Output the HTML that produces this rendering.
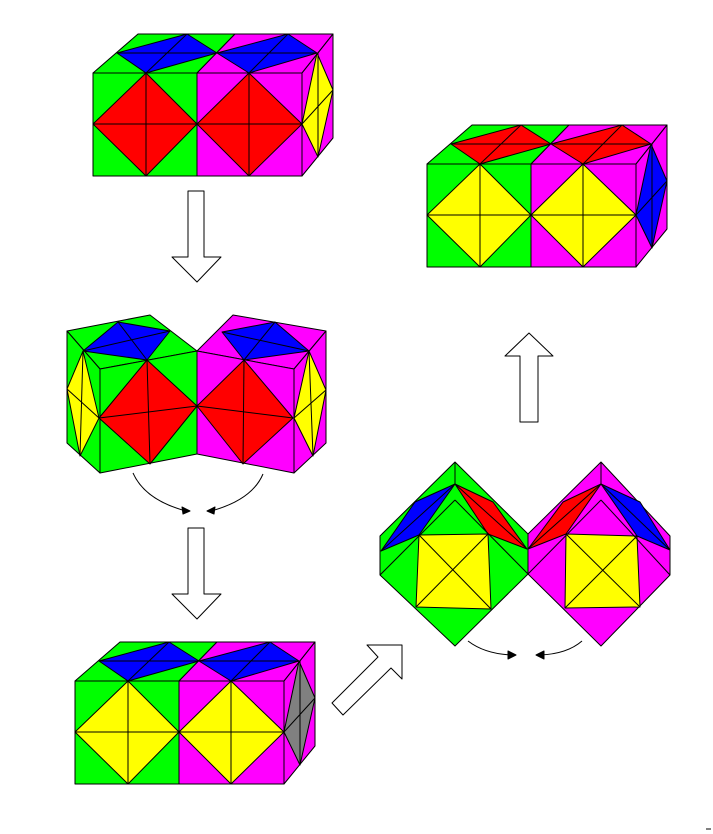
<!DOCTYPE html>
<html><head><meta charset="utf-8"><style>html,body{margin:0;padding:0;background:#fff}svg{display:block}</style></head>
<body>
<svg width="713" height="834" viewBox="0 0 713 834" xmlns="http://www.w3.org/2000/svg" stroke="#000" stroke-width="1" stroke-linejoin="round">
<defs>
<g id="box">
  <polygon points="93,73 138,34 235,34 197,73" fill="#00ff00"/>
  <polygon points="197,73 235,34 333,34 302,73" fill="#ff00ff"/>
  <polygon points="302,73 333,34 333,138 302,176" fill="#ff00ff"/>
  <polygon points="93,73 197,73 197,176 93,176" fill="#00ff00"/>
  <polygon points="197,73 302,73 302,176 197,176" fill="#ff00ff"/>
</g>
<g id="boxlines" fill="none">
  <line x1="117" y1="53" x2="317" y2="53"/>
  <line x1="146" y1="73" x2="187" y2="34"/>
  <line x1="249" y1="73" x2="288" y2="34"/>
  <line x1="318" y1="53" x2="318" y2="157"/>
  <line x1="302" y1="124" x2="333" y2="90"/>
  <line x1="93" y1="124" x2="302" y2="124"/>
  <line x1="146" y1="73" x2="146" y2="176"/>
  <line x1="249" y1="73" x2="249" y2="176"/>
  <line x1="302" y1="73" x2="333" y2="34"/>
</g>
</defs>

<!-- Figure 1 -->
<g>
  <use href="#box"/>
  <polygon points="117,53 187,34 217,53 146,73" fill="#0000ff"/>
  <polygon points="217,53 288,34 317,53 249,73" fill="#0000ff"/>
  <polygon points="317,53 333,90 318,157 302,124" fill="#ffff00"/>
  <polygon points="146,73 197,124 146,176 93,124" fill="#ff0000"/>
  <polygon points="249,73 302,124 249,176 197,124" fill="#ff0000"/>
  <use href="#boxlines"/>
</g>

<!-- Figure 4 -->
<g transform="translate(334,91)">
  <use href="#box"/>
  <polygon points="117,53 187,34 217,53 146,73" fill="#ff0000"/>
  <polygon points="217,53 288,34 317,53 249,73" fill="#ff0000"/>
  <polygon points="317,53 333,90 318,157 302,124" fill="#0000ff"/>
  <polygon points="146,73 197,124 146,176 93,124" fill="#ffff00"/>
  <polygon points="249,73 302,124 249,176 197,124" fill="#ffff00"/>
  <use href="#boxlines"/>
</g>

<!-- Figure 5 -->
<g transform="translate(-18,608)">
  <use href="#box"/>
  <polygon points="117,53 187,34 217,53 146,73" fill="#0000ff"/>
  <polygon points="217,53 288,34 317,53 249,73" fill="#0000ff"/>
  <polygon points="317,53 333,90 318,157 302,124" fill="#808080"/>
  <polygon points="146,73 197,124 146,176 93,124" fill="#ffff00"/>
  <polygon points="249,73 302,124 249,176 197,124" fill="#ffff00"/>
  <use href="#boxlines"/>
</g>

<!-- Figure 2 -->
<g>
  <polygon points="67,331 150,315 197,351 100,369" fill="#00ff00"/>
  <polygon points="67,331 100,369 100,473 67,443" fill="#00ff00"/>
  <polygon points="100,369 197,351 197,454 100,473" fill="#00ff00"/>
  <polygon points="197,351 233,315 326,331 294,369" fill="#ff00ff"/>
  <polygon points="294,369 326,331 326,443 294,473" fill="#ff00ff"/>
  <polygon points="197,351 294,369 294,473 197,454" fill="#ff00ff"/>
  <polygon points="83,351 118,322 170,331 147,360" fill="#0000ff"/>
  <polygon points="222,332 275,322 309,351 244,360" fill="#0000ff"/>
  <polygon points="147,360 197,406 150,464 99,418" fill="#ff0000"/>
  <polygon points="244,360 293,418 243,464 197,406" fill="#ff0000"/>
  <polygon points="83,351 67,389 80,456 99,418" fill="#ffff00"/>
  <polygon points="309,351 326,390 313,456 294,418" fill="#ffff00"/>
  <g fill="none">
    <line x1="83" y1="351" x2="170" y2="331"/><line x1="118" y1="322" x2="147" y2="360"/>
    <line x1="222" y1="332" x2="309" y2="351"/><line x1="275" y1="322" x2="244" y2="360"/>
    <line x1="99" y1="418" x2="197" y2="406"/><line x1="147" y1="360" x2="150" y2="464"/>
    <line x1="197" y1="406" x2="293" y2="418"/><line x1="244" y1="360" x2="243" y2="464"/>
    <line x1="67" y1="389" x2="99" y2="418"/><line x1="83" y1="351" x2="80" y2="456"/>
    <line x1="326" y1="390" x2="294" y2="418"/><line x1="309" y1="351" x2="313" y2="456"/>
  </g>
</g>

<!-- Figure 3 -->
<g>
  <polygon points="455,462 528,534 528,574 455,646 380,575 380,536" fill="#00ff00"/>
  <polygon points="601,462 670,536 670,575 601,646 528,574 528,534" fill="#ff00ff"/>
  <polygon points="455,484 415,502 381,551 419,535" fill="#0000ff"/>
  <polygon points="455,484 493,502 527,549 488,534" fill="#ff0000"/>
  <polygon points="601,484 563,502 528,549 566,534" fill="#ff0000"/>
  <polygon points="601,484 640,502 670,550 637,536" fill="#0000ff"/>
  <polygon points="419,535 488,534 491,609 416,607" fill="#ffff00"/>
  <polygon points="566,534 637,536 640,607 565,608" fill="#ffff00"/>
  <g fill="none">
    <line x1="455" y1="462" x2="455" y2="484"/><line x1="601" y1="462" x2="601" y2="484"/>
    <line x1="419" y1="535" x2="491" y2="609"/><line x1="488" y1="534" x2="416" y2="607"/>
    <line x1="566" y1="534" x2="640" y2="607"/><line x1="637" y1="536" x2="565" y2="608"/>
    <line x1="380" y1="575" x2="455" y2="500"/><line x1="455" y1="500" x2="528" y2="574"/>
    <line x1="528" y1="574" x2="601" y2="500"/><line x1="601" y1="500" x2="670" y2="575"/>
    <line x1="381" y1="551" x2="455" y2="484"/><line x1="527" y1="549" x2="455" y2="484"/>
    <line x1="528" y1="549" x2="601" y2="484"/><line x1="670" y1="550" x2="601" y2="484"/>
    <line x1="528" y1="534" x2="528" y2="574"/>
  </g>
</g>

<!-- Arrows -->
<polygon points="188,191 204,191 204,257 221,257 197,282 172,257 188,257" fill="#fff"/>
<polygon points="188,528 204,528 204,594 221,594 197,619 172,594 188,594" fill="#fff"/>
<polygon points="520,422 538,422 538,356 553,356 529,333 505,356 520,356" fill="#fff"/>
<polygon points="367,645 402,645 402,679 391,668 343,715 332,703 378,657" fill="#fff"/>

<g fill="none">
  <path d="M133,473 Q145,500 186,511"/>
  <path d="M263,474 Q252,500 211,511"/>
  <polygon points="190,511 182,507 183,514" fill="#000"/>
  <polygon points="207,511 215,507 214,514" fill="#000"/>
  <path d="M468,641 Q485,654 512,655"/>
  <path d="M582,641 Q567,654 540,655"/>
  <polygon points="516,655 508,651 508,659" fill="#000"/>
  <polygon points="536,655 544,651 544,659" fill="#000"/>
</g>
<line x1="706" y1="829" x2="711" y2="829"/>
</svg>
</body></html>
